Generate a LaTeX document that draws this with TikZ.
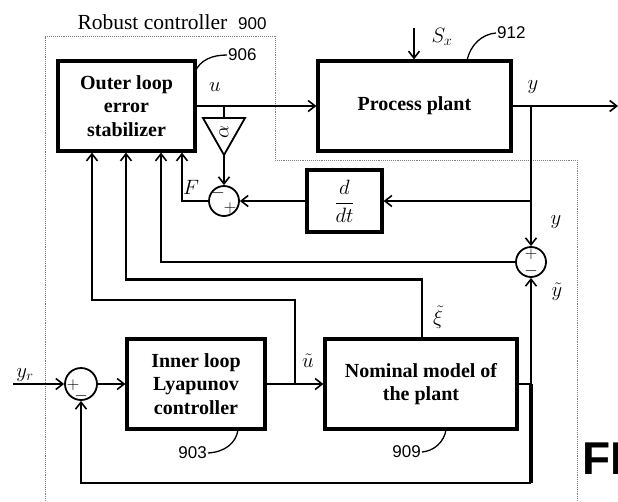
\documentclass[tikz,border=0pt]{standalone}
\usepackage{amsmath}
\usepackage{amssymb}
\usepackage{fontspec}
\setmainfont{Liberation Serif}
\newfontfamily\numfont{Liberation Sans}
\usetikzlibrary{arrows.meta}

\newcommand{\boxfont}{\fontsize{20}{23.5}\selectfont\bfseries}
\newcommand{\labfont}{\fontsize{21}{21}\selectfont}
\newcommand{\reffont}{\numfont\fontsize{17}{17}\selectfont}

\tikzset{
	block/.style={draw, line width=3.2pt, align=center, font=\boxfont, inner sep=0pt},
	sumnode/.style={draw, circle, line width=1.8pt, minimum size=30pt, inner sep=0pt},
	sig/.style={line width=2.2pt, -{Straight Barb[length=7pt,width=11pt,line width=1.6pt]}},
	wire/.style={line width=2.2pt},
	refnum/.style={font=\reffont, inner sep=1pt},
	lead/.style={line width=1.3pt},
	sgn/.style={font=\fontsize{17}{17}\selectfont, inner sep=0pt},
}

\begin{document}
\begin{tikzpicture}[x=1pt, y=-1pt, font=\labfont]
	\useasboundingbox (0,0) rectangle (618,501);
	%\draw[help lines] (0,0) grid[step=50] (618,501);
	% frame of the robust controller
	\draw[gray, densely dotted, line width=0.9pt] (45,501) -- (45,36) -- (275,36) -- (275,160) -- (577,160) -- (577,501);
	\node (title) at (172,22) {\fontsize{21.5}{21.5}\selectfont Robust controller\ \ {\reffont 900}};

	% blocks
	\node[block, minimum width=137pt, minimum height=90pt] (outer) at (126.5,106) {Outer loop\\error\\stabilizer};
	\node[block, minimum width=193pt, minimum height=90pt] (plant) at (414.5,106) {Process plant};
	\node[block, minimum width=75pt, minimum height=62pt, font=\labfont] (ddt) at (344.5,201) {$\dfrac{d}{dt}$};
	\node[block, minimum width=138pt, minimum height=90pt] (inner) at (196,384) {Inner loop\\Lyapunov\\controller};
	\node[block, minimum width=192pt, minimum height=90pt] (nominal) at (421,384) {Nominal model of\\the plant};

	% gain and summing points
	\draw[line width=1.8pt] (203,118) coordinate (gtop) -- (245,118) -- (224,155) coordinate (gbot) -- cycle;
	\node[rotate=90, inner sep=0pt] (gain) at (224,132) {$\alpha$};
	\node[sumnode] (sumF) at (224,201) {};
	\node[sgn] at (218,193) {$-$};
	\node[sgn] at (230,208) {$+$};
	\node[sumnode] (sumY) at (531,262) {};
	\node[sgn] at (531,254) {$+$};
	\node[sgn] at (531,271) {$-$};
	\node[sumnode, minimum size=32pt] (sumR) at (81,384) {};
	\node[sgn] at (73,385) {$+$};
	\node[sgn] at (81,396) {$-$};

	% branch points and free ends
	\coordinate (uj) at (224,106);
	\coordinate (yj) at (531,106);
	\coordinate (yout) at (618,106);
	\coordinate (dj) at (531,201);
	\coordinate (ubj) at (295,384);
	\coordinate (fbj) at (531,384);
	\coordinate (fbb) at (531,483);
	\coordinate (yrin) at (13,384);

	% connectors
	\draw[sig] (outer) -- (plant);
	\draw[wire] (uj) -- (224,118);
	\draw[sig] (gbot) -- (sumF.north);
	\draw[sig] (414,28) -- (plant.north -| 414,0);
	\draw[sig] (plant) -- (yout);
	\draw[sig] (yj) -- (sumY.north);
	\draw[sig] (dj) -- (ddt.east);
	\draw[sig] (ddt.west) -- (sumF.east);
	\draw[sig] (sumF.west) -| ([xshift=55.5pt]outer.south);
	\draw[sig] (sumY.west) -| ([xshift=34.5pt]outer.south);
	\draw[sig] ([xshift=1pt]nominal.north) -- ++(0,-58) -| ([xshift=-0.5pt]outer.south);
	\draw[sig] (ubj) -- ++(0,-84) -| ([xshift=-34.5pt]outer.south);
	\draw[sig] (inner) -- (nominal);
	\draw[sig] (nominal.east) -| (sumY.south);
	\draw[line width=3.6pt] (fbj) -- (fbb);
	\draw[sig] (fbb) -| (sumR.south);
	\draw[sig] (yrin) -- (sumR.west);
	\draw[sig] (sumR.east) -- (inner.west);

	% signal labels
	\node (ulab) at (215,87) {$u$};
	\node (sxlab) at (442,37) {$S_x$};
	\node (ylab) at (533,87) {$y$};
	\node (flab) at (191,187) {$F$};
	\node (y2lab) at (556,222) {$y$};
	\node (ytlab) at (557,292) {$\tilde{y}$};
	\node (xilab) at (438,317) {$\tilde{\xi}$};
	\node (utlab) at (308,361) {$\tilde{u}$};
	\node (yrlab) at (25,375) {$y_r$};

	% reference numbers
	\node[refnum, anchor=west] (n906) at (227,55) {906};
	\draw[lead] (195,72) .. controls (200,60) and (212,55) .. (n906.west);
	\node[refnum, anchor=west] (n912) at (496,33) {912};
	\draw[lead] (467,61) .. controls (470,45) and (482,34) .. (n912.west);
	\node[refnum, anchor=east] (n903) at (208,453) {903};
	\draw[lead] (238,430) .. controls (236,443) and (225,452) .. (n903.east);
	\node[refnum, anchor=east] (n909) at (422,452) {909};
	\draw[lead] (446,430) .. controls (444,442) and (434,451) .. (n909.east);

	\node[anchor=west, inner sep=0pt, font=\numfont\bfseries\fontsize{46}{46}\selectfont] (fig) at (582,459) {FI};
\end{tikzpicture}
\end{document}
